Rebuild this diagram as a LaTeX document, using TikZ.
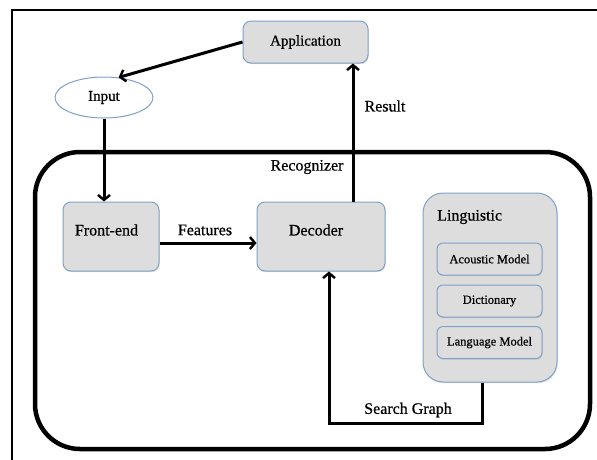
\documentclass[tikz,border=0pt]{standalone}
\usepackage{fontspec}
\setmainfont{Liberation Serif}
\usetikzlibrary{arrows.meta,calc,shapes.geometric,shadows}
\definecolor{boxgray}{RGB}{221,221,221}
\definecolor{boxblue}{RGB}{126,160,203}
\newcommand{\heavy}{\addfontfeature{FakeBold=0.6}}
\begin{document}
\begin{tikzpicture}[x=1pt,y=-1pt,
  box/.style={draw=boxblue,fill=boxgray,line width=1pt,rounded corners=8pt,
    drop shadow={shadow xshift=0.6pt,shadow yshift=-1.2pt,opacity=0.25},
    inner sep=0pt,font=\fontsize{16}{19}\selectfont\heavy},
  subbox/.style={box,rounded corners=6pt,minimum width=105pt,minimum height=32pt,
    font=\fontsize{12.5}{14}\selectfont\heavy},
  lbl/.style={inner sep=0pt,font=\fontsize{16}{19}\selectfont\heavy},
  arr/.style={line width=3pt,-{Straight Barb[length=5pt,width=12pt,line width=2.4pt]}}]
\useasboundingbox (0,0) rectangle (597,459);
% outer frame
\draw[line width=1.4pt] (12,470) -- (12,10) -- (610,10);
% recognizer
\draw[line width=4.5pt,rounded corners=45pt] (35,152) rectangle (590,449);
\node[lbl] (rec) at (307,167) {Recognizer};
% nodes
\node[box,minimum width=125pt,minimum height=42pt,font=\fontsize{15}{18}\selectfont\heavy] (app) at (305.5,42) {Application};
\node[draw=boxblue,line width=1pt,fill=white,ellipse,minimum width=98pt,minimum height=41pt,inner sep=0pt,font=\fontsize{15}{18}\selectfont\heavy] (input) at (104,97.5) {Input};
\node[box,minimum width=96pt,minimum height=69pt] (fe) at (111,236.5) {};
\node[lbl] (fet) at (106.5,230) {Front-end};
\node[box,minimum width=128pt,minimum height=69pt] (dec) at (321,236.5) {};
\node[lbl] (dect) at (316,230) {Decoder};
\node[box,rounded corners=20pt,minimum width=134pt,minimum height=189pt] (ling) at (490,287.5) {};
\node[lbl,anchor=west] (lingt) at (437,217) {Linguistic};
\node[subbox] (am) at (489.5,259) {Acoustic Model};
\node[subbox] (dict) at (489.5,301) {Dictionary};
\node[subbox] (lm) at (489.5,342.5) {Language Model};
% connectors
\draw[arr] (app.west) -- (input.54);
\draw[arr] (input.south) -- (input.south |- fe.north);
\draw[arr] ($(fe.east)+(0,6.5)$) -- ($(dec.west)+(0,6.5)$);
\node[lbl] (feat) at (205,230) {Features};
\coordinate (r0) at ($(dec.north)+(32,0)$);
\draw[arr] (r0) -- (r0 |- app.south);
\node[lbl] (res) at (385,106) {Result};
\coordinate (s0) at ($(ling.south)+(-8,0)$);
\coordinate (d0) at ($(dec.south)+(8,0)$);
\draw[arr] (s0) -- ++(0,41) -| (d0);
\node[lbl] (sg) at (408,410) {Search Graph};
\end{tikzpicture}
\end{document}
